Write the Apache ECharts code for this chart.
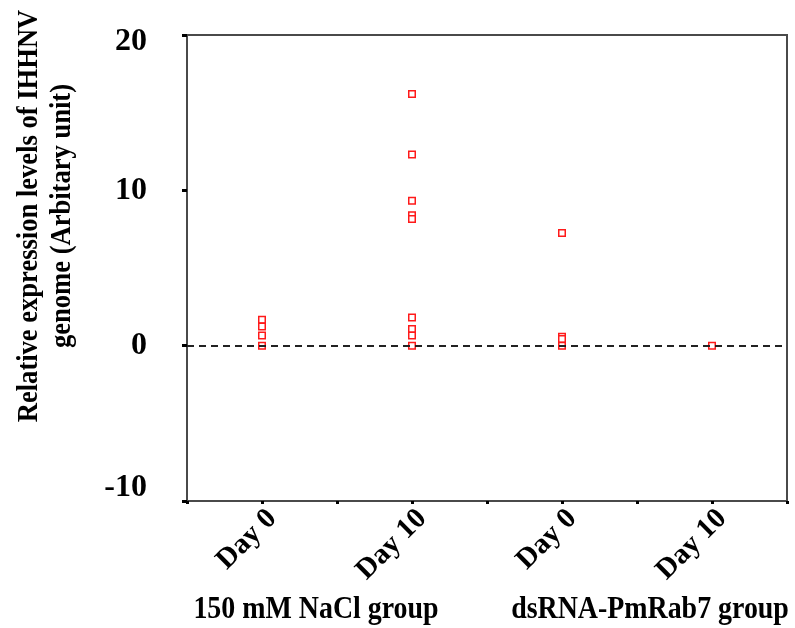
<!DOCTYPE html>
<html>
<head>
<meta charset="utf-8">
<script src="https://cdn.jsdelivr.net/npm/echarts@6/dist/echarts.min.js"></script>
<style>
  html, body { margin: 0; padding: 0; background: #fff; }
  #chart { width: 795px; height: 628px; }
</style>
</head>
<body>
<div id="chart"></div>
<script>
// Sampling days shown on the x axis, two per treatment group
const categories = ['Day 0', 'Day 10', 'Day 0', 'Day 10'];
const groupNames = ['150 mM NaCl group', 'dsRNA-PmRab7 group'];

// Relative IHHNV genome expression for each individual shrimp
const naclDay0 = [1.67, 1.23, 0.65, 0];
const naclDay10 = [16.2, 12.3, 9.33, 8.4, 8.15, 1.81, 1.08, 0.65, 0];
const dsrnaDay0 = [7.26, 0.58, 0.43, 0];
const dsrnaDay10 = [0];

const yTicks = [-10, 0, 10, 20];

const FONT = '"Liberation Serif", "Times New Roman", serif';
const groups = [naclDay0, naclDay10, dsrnaDay0, dsrnaDay10];
const points = [];
groups.forEach((vals, i) => vals.forEach(v => points.push([i, v])));

const chart = echarts.init(document.getElementById('chart'));
const axisColor = '#4a4a4a';
const yLabelFont = { fontFamily: FONT, fontWeight: 'bold', fontSize: 32, color: '#000' };

chart.setOption({
  animation: false,
  grid: {
    left: 187, right: 8, top: 35, bottom: 127,
    show: true, borderColor: axisColor, borderWidth: 2, backgroundColor: 'transparent'
  },
  xAxis: [
    {
      // boundary ticks and the day labels
      type: 'category',
      data: categories,
      boundaryGap: true,
      axisLine: { onZero: false, lineStyle: { color: axisColor, width: 2 } },
      axisTick: { show: true, length: 3, lineStyle: { color: '#000', width: 3 } },
      axisLabel: {
        rotate: 45, margin: 3, interval: 0,
        align: 'right', verticalAlign: 'top',
        fontFamily: FONT, fontWeight: 'bold', fontSize: 29, color: '#000'
      },
      splitLine: { show: false }
    },
    {
      // ticks under each day
      type: 'category',
      data: categories,
      position: 'bottom',
      boundaryGap: true,
      axisLine: { show: false, onZero: false },
      axisTick: { show: true, alignWithLabel: true, length: 3, lineStyle: { color: '#000', width: 3 } },
      axisLabel: { show: false },
      splitLine: { show: false }
    }
  ],
  yAxis: {
    type: 'value',
    min: yTicks[0], max: yTicks[yTicks.length - 1], interval: 10,
    axisLine: { show: true, lineStyle: { color: axisColor, width: 2 } },
    axisTick: { show: true, length: 5, lineStyle: { color: '#000', width: 3 } },
    axisLabel: Object.assign({
      margin: 40,
      // end labels sit slightly inside the axis range
      formatter: v => v === yTicks[yTicks.length - 1] ? '{top|' + v + '}'
        : v === yTicks[0] ? '{bot|' + v + '}' : String(v),
      rich: {
        top: Object.assign({ padding: [14, 0, 0, 0] }, yLabelFont),
        bot: Object.assign({ padding: [0, 0, 26, 0] }, yLabelFont)
      }
    }, yLabelFont),
    splitLine: { show: false }
  },
  graphic: [
    {
      type: 'text', x: 46, y: 216, rotation: Math.PI / 2, scaleX: 0.885,
      style: {
        text: 'Relative expression levels of IHHNV\ngenome (Arbitary unit)',
        font: 'bold 30px ' + FONT, fill: '#000',
        align: 'center', verticalAlign: 'middle', lineHeight: 33
      }
    },
    {
      type: 'text', x: 316, y: 610, scaleX: 0.9,
      style: { text: groupNames[0], font: 'bold 31px ' + FONT, fill: '#000', align: 'center', verticalAlign: 'middle' }
    },
    {
      type: 'text', x: 650, y: 610, scaleX: 0.9,
      style: { text: groupNames[1], font: 'bold 31px ' + FONT, fill: '#000', align: 'center', verticalAlign: 'middle' }
    }
  ],
  series: [
    {
      type: 'line',
      data: [],
      z: 1,
      markLine: {
        silent: true,
        symbol: ['none', 'none'],
        label: { show: false },
        lineStyle: { color: '#222', width: 2, type: [7, 5] },
        data: [{ yAxis: 0 }]
      }
    },
    {
      type: 'scatter',
      data: points,
      symbol: 'rect',
      symbolSize: 6.5,
      z: 3,
      itemStyle: { color: '#fff', borderColor: '#ff1a1a', borderWidth: 1.5, opacity: 1 }
    }
  ]
});
</script>
</body>
</html>
